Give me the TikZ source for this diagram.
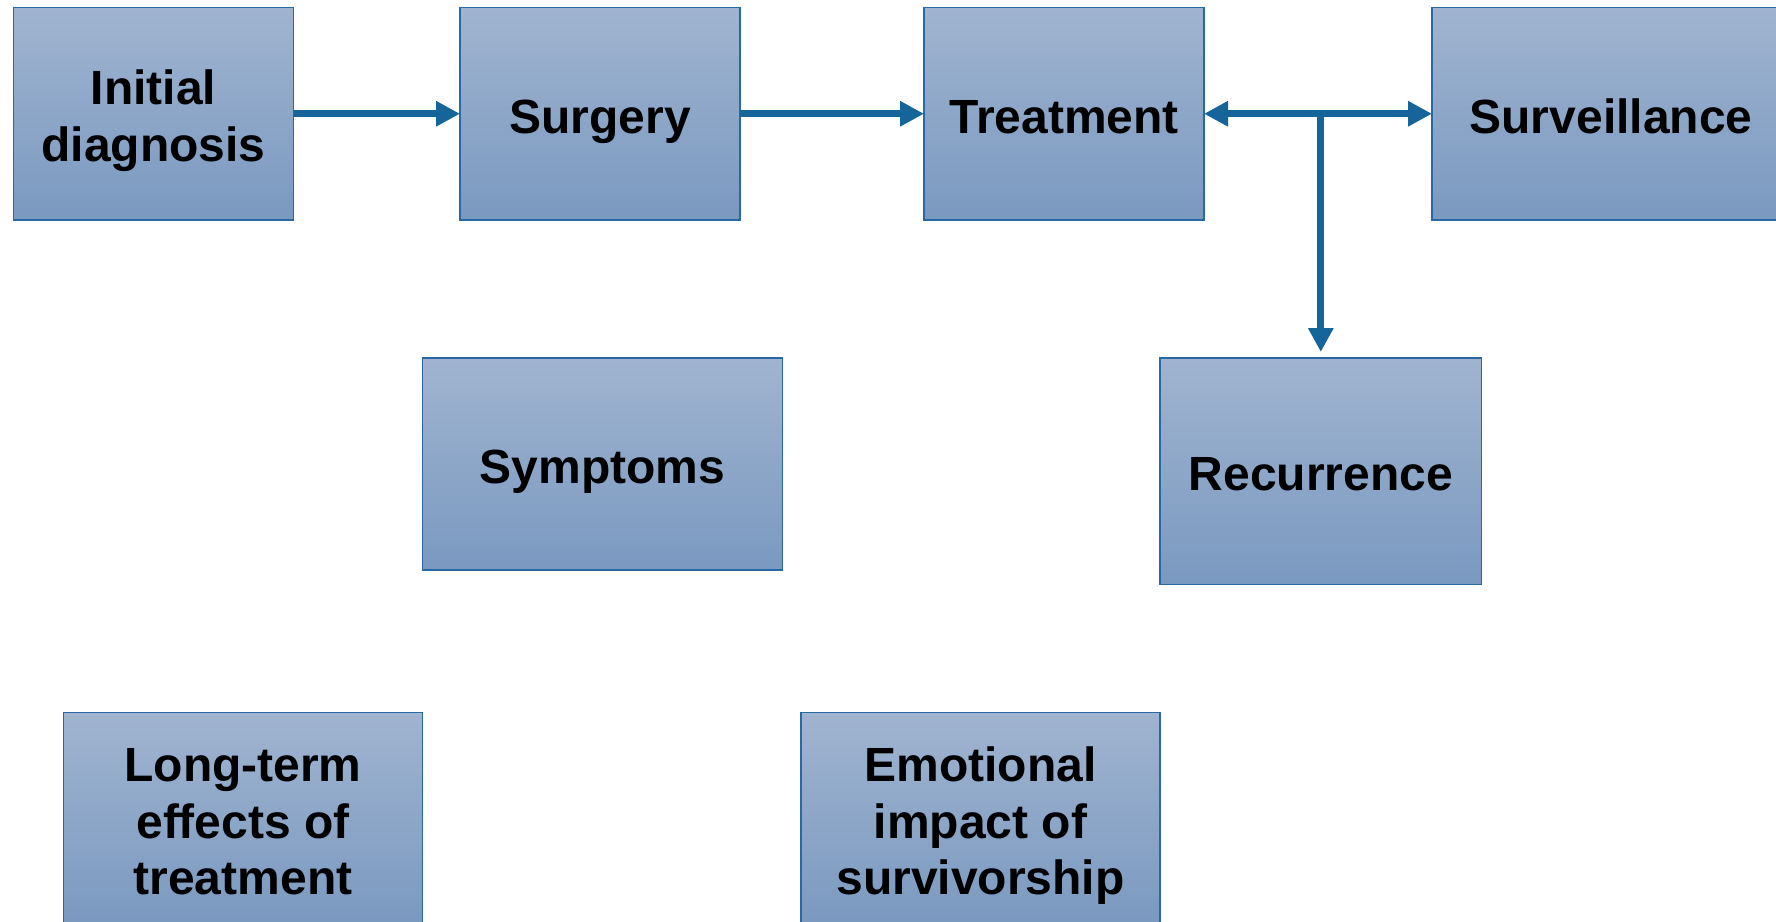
\documentclass[tikz,border=0pt]{standalone}
\usepackage{fontspec}
\setmainfont{Liberation Sans}
\usetikzlibrary{arrows.meta}
\definecolor{boxtop}{RGB}{160,180,208}
\definecolor{boxbot}{RGB}{122,153,192}
\definecolor{boxline}{RGB}{40,105,165}
\definecolor{arrowc}{RGB}{21,101,155}
\newcommand{\txtln}[1]{\rule[-1.5pt]{0pt}{41.5pt}\smash{#1}}
\tikzset{
  box/.style={draw=boxline, line width=1.4pt, top color=boxtop, bottom color=boxbot,
    inner sep=0pt, outer sep=0pt, align=center, text=black,
    font=\fontsize{48}{56.5}\selectfont\bfseries},
  conn/.style={draw=arrowc, line width=7pt, -{Triangle[length=24pt,width=24pt]}},
  dconn/.style={draw=arrowc, line width=7pt, {Triangle[length=24pt,width=24pt]}-{Triangle[length=24pt,width=24pt]}}
}
\begin{document}
\begin{tikzpicture}[x=1pt,y=-1pt]
\clip (0,0) rectangle (1776,921);
\useasboundingbox (0,0) rectangle (1776,921);
\fill[white] (0,0) rectangle (1776,921);
\node[box, minimum width=280pt, minimum height=212.5pt] (init) at (153.5,113.75) {\txtln{Initial}\\\txtln{diagnosis}};
\node[box, minimum width=280pt, minimum height=212.5pt] (surg) at (600,113.75) {\txtln{Surgery}};
\node[box, minimum width=280pt, minimum height=212.5pt] (treat) at (1064,113.75) {\txtln{Treatment}};
\node[box, minimum width=358pt, minimum height=212.5pt] (surv) at (1611,113.75) {\txtln{Surveillance}};
\node[box, minimum width=360pt, minimum height=212pt] (symp) at (602.6,464) {\txtln{Symptoms}};
\node[box, minimum width=321.6pt, minimum height=226.5pt] (recur) at (1320.8,471.25) {\txtln{Recurrence}};
\node[box, minimum width=359pt, minimum height=212.5pt] (long) at (243,818.75) {\txtln{Long-term}\\\txtln{effects of}\\\txtln{treatment}};
\node[box, minimum width=359pt, minimum height=212.5pt] (emot) at (980.5,818.75) {\txtln{Emotional}\\\txtln{impact of}\\\txtln{survivorship}};
\coordinate (j) at (1320.8,113.75);
\draw[conn] (init.east) -- (surg.west);
\draw[conn] (surg.east) -- (treat.west);
\draw[dconn] (treat.east) -- (surv.west);
\draw[conn, shorten >=6pt] (j) -- (recur.north);
\end{tikzpicture}
\end{document}
